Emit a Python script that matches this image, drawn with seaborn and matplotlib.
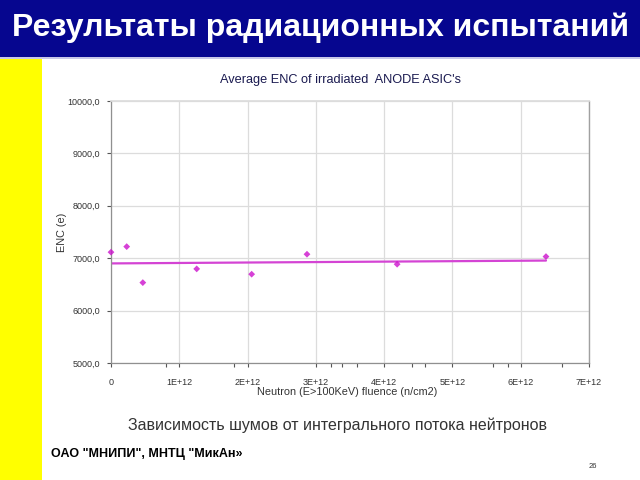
import matplotlib
matplotlib.use("Agg")
import matplotlib.pyplot as plt
from matplotlib.patches import Rectangle
import seaborn as sns
import pandas as pd

# ---- data ----
fluence = [0.0, 0.23e12, 0.466e12, 1.255e12, 2.06e12, 2.87e12, 4.19e12, 6.37e12]
enc = [7115, 7221, 6534, 6796, 6695, 7076, 6885, 7031]
x_ticks = [0, 1e12, 2e12, 3e12, 4e12, 5e12, 6e12, 7e12]
x_tick_labels = ["0", "1E+12", "2E+12", "3E+12", "4E+12", "5E+12", "6E+12", "7E+12"]
y_ticks = [5000, 6000, 7000, 8000, 9000, 10000]
y_tick_labels = ["5000,0", "6000,0", "7000,0", "8000,0", "9000,0", "10000,0"]
x_minor = [0.805e12, 1.80e12, 3.22e12, 3.38e12, 3.60e12, 4.41e12, 4.60e12, 5.59e12, 5.81e12, 6.60e12]

slide_title = "Результаты радиационных испытаний"
chart_title = "Average ENC of irradiated  ANODE ASIC's"
x_label = "Neutron (E>100KeV) fluence (n/cm2)"
y_label = "ENC (e)"
caption = "Зависимость шумов от интегрального потока нейтронов"
footer = "ОАО \"МНИПИ\", МНТЦ \"МикАн»"
page_no = "26"

df = pd.DataFrame({"fluence": fluence, "enc": enc})

sns.set_theme(style="white")
plt.rcParams["font.family"] = ["Liberation Sans", "DejaVu Sans"]

W, H = 640, 480
fig = plt.figure(figsize=(6.4, 4.8), dpi=100)
fig.patch.set_facecolor("white")

# title bar and side bar
fig.patches.append(Rectangle((0, 1 - 57 / H), 1, 57 / H, transform=fig.transFigure,
                             facecolor="#06068f", edgecolor="none", zorder=0))
fig.patches.append(Rectangle((0, 1 - 58.5 / H), 1, 1.5 / H, transform=fig.transFigure,
                             facecolor="#c8c8e8", edgecolor="none", zorder=0))
fig.patches.append(Rectangle((0, 0), 42 / W, 1 - 58.5 / H, transform=fig.transFigure,
                             facecolor="#ffff00", edgecolor="none", zorder=0))

fig.text(12 / W, 1 - 28 / H, slide_title, color="white", fontsize=23.0,
         fontweight="bold", ha="left", va="center")

left, right = 111 / W, 589 / W
bottom, top = 1 - 363 / H, 1 - 101 / H
ax = fig.add_axes([left, bottom, right - left, top - bottom])

sns.regplot(data=df, x="fluence", y="enc", ax=ax, ci=None, truncate=True,
            marker="D",
            scatter_kws=dict(s=12, color="#cc11cc", edgecolors="none", zorder=3, clip_on=False),
            line_kws=dict(color="#d444d4", lw=1.6, zorder=2))

ax.set_xlim(0, 7e12)
ax.set_ylim(5000, 10000)
ax.set_xticks(x_ticks)
ax.set_xticklabels(x_tick_labels)
ax.set_xticks(x_minor, minor=True)
ax.set_yticks(y_ticks)
ax.set_yticklabels(y_tick_labels)
ax.grid(True, which="major", color="#dcdcdc", lw=0.9)
ax.set_axisbelow(True)
ax.tick_params(axis="both", which="major", labelsize=6.5, colors="#555555",
               length=3, width=0.8, direction="out", labelcolor="#333333")
ax.tick_params(axis="x", which="major", pad=8)
ax.tick_params(axis="y", which="major", pad=5)
ax.tick_params(axis="x", which="minor", length=3, width=0.8, color="#555555", direction="out")
ax.xaxis.set_tick_params(bottom=True, which="both")
ax.yaxis.set_tick_params(left=True)
for s in ["left", "bottom"]:
    ax.spines[s].set_color("#909090")
    ax.spines[s].set_linewidth(0.9)
ax.spines["top"].set_color("#dcdcdc")
ax.spines["right"].set_color("#a0a0a0")
ax.spines["right"].set_linewidth(1.0)

ax.set_xlabel("")
ax.set_ylabel("")
fig.text(347 / W, 1 - 392 / H, x_label, fontsize=7.8, color="#333333", ha="center", va="center")
fig.text(62 / W, 1 - 232 / H, y_label, fontsize=7.8, color="#333333", ha="center", va="center",
         rotation=90)
fig.text(341 / W, 1 - 80 / H, chart_title, fontsize=9.2, color="#1a1a50", ha="center", va="center")

fig.text(337 / W, 1 - 425 / H, caption, fontsize=11.5, color="#333333", ha="center", va="center")
fig.text(51 / W, 1 - 454 / H, footer, fontsize=9.0, fontweight="bold", color="black",
         ha="left", va="center")
fig.text(593 / W, 1 - 466 / H, page_no, fontsize=5.5, color="#333333", ha="center", va="center")

fig.savefig("out.png", dpi=100)
